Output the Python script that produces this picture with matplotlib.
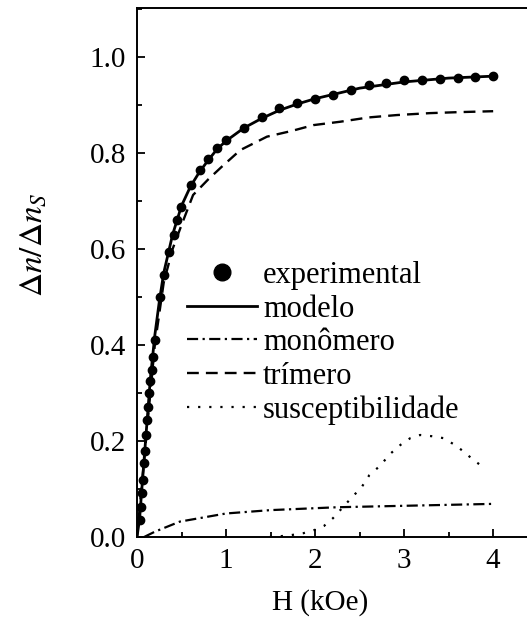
import numpy as np
import matplotlib
matplotlib.use('Agg')
import matplotlib.pyplot as plt
from matplotlib.ticker import MultipleLocator, FormatStrFormatter

plt.rcParams['font.family'] = 'Liberation Serif'
plt.rcParams['mathtext.fontset'] = 'stix'

# experimental points
H_exp = [0.034, 0.04, 0.053, 0.071, 0.079, 0.09, 0.10, 0.109, 0.127, 0.14, 0.146, 0.165, 0.18, 0.20,
         0.26, 0.30, 0.36, 0.41, 0.45, 0.49, 0.61, 0.71, 0.80, 0.90, 1.0,
         1.2, 1.4, 1.6, 1.8, 2.0, 2.2, 2.4, 2.6, 2.8, 3.0, 3.2, 3.4, 3.6, 3.8, 4.0]
y_exp = [0.035, 0.063, 0.091, 0.119, 0.154, 0.18, 0.2125, 0.244, 0.27, 0.30, 0.324, 0.348, 0.376, 0.41,
         0.50, 0.546, 0.594, 0.629, 0.66, 0.688, 0.733, 0.765, 0.787, 0.811, 0.827,
         0.853, 0.874, 0.893, 0.905, 0.913, 0.921, 0.931, 0.942, 0.946, 0.951, 0.952, 0.955, 0.957, 0.959, 0.960]

# modelo
H_mod = [0, 0.03, 0.05, 0.1, 0.15, 0.2, 0.25, 0.3, 0.4, 0.5, 0.6, 0.7, 0.8, 0.9, 1.0,
         1.2, 1.4, 1.6, 1.8, 2.0, 2.5, 3.0, 3.5, 4.0]
y_mod = [0, 0.04, 0.09, 0.21, 0.33, 0.42, 0.49, 0.55, 0.63, 0.69, 0.73, 0.76, 0.785, 0.808, 0.825,
         0.852, 0.872, 0.889, 0.902, 0.913, 0.935, 0.948, 0.956, 0.960]

# monomero
H_mon = [0.08, 0.2, 0.48, 1.0, 1.5, 2.25, 3.0, 3.5, 4.0]
y_mon = [0, 0.011, 0.032, 0.049, 0.056, 0.062, 0.065, 0.067, 0.069]

# trimero
H_tri = [0, 0.1, 0.2, 0.3, 0.4, 0.5, 0.63, 0.8, 0.95, 1.16, 1.46, 1.74, 1.98, 2.28, 2.6, 2.92, 3.29, 3.6, 4.0]
y_tri = [0, 0.2, 0.40, 0.53, 0.60, 0.65, 0.7125, 0.745, 0.771, 0.806, 0.834, 0.846, 0.858, 0.865, 0.874,
         0.879, 0.883, 0.885, 0.887]

# susceptibilidade
H_sus = [1.49, 1.7, 1.87, 2.0, 2.1, 2.2, 2.42, 2.52, 2.61, 2.74, 2.83, 2.96, 3.07, 3.18, 3.31, 3.44,
         3.55, 3.67, 3.78, 3.91]
y_sus = [0, 0.003, 0.008, 0.015, 0.023, 0.039, 0.084, 0.103, 0.129, 0.150, 0.171, 0.192, 0.206, 0.2125,
         0.210, 0.206, 0.194, 0.178, 0.160, 0.143]

fig = plt.figure(figsize=(5.27, 6.21), dpi=100)
ax = fig.add_axes([137/527, 84/621, 390/527, 529/621])

ax.plot(H_exp, y_exp, ls=' ', marker='o', ms=6, c='black', label='experimental')
ax.plot(H_mod, y_mod, c='black', lw=2.0, label='modelo')
ax.plot(H_mon, y_mon, c='black', lw=1.6, dashes=(5, 2, 1, 2), label='monômero')
ax.plot(H_tri, y_tri, c='black', lw=1.7, dashes=(5, 3), label='trímero')
ax.plot(H_sus, y_sus, c='black', lw=1.6, dashes=(1, 4), label='susceptibilidade')

ax.set_xlim(0, 4.38)
ax.set_ylim(0, 1.102)
ax.spines['right'].set_visible(False)
for s in ['left', 'top', 'bottom']:
    ax.spines[s].set_linewidth(1.4)

ax.xaxis.set_major_locator(MultipleLocator(1))
ax.xaxis.set_minor_locator(MultipleLocator(0.5))
ax.yaxis.set_major_locator(MultipleLocator(0.2))
ax.yaxis.set_minor_locator(MultipleLocator(0.1))
ax.yaxis.set_major_formatter(FormatStrFormatter('%.1f'))
ax.tick_params(which='both', direction='in', top=False, right=False, labelsize=21, width=1.3)
ax.tick_params(which='major', length=6)
ax.tick_params(which='minor', length=3.5)
ax.tick_params(axis='x', pad=8)
ax.tick_params(axis='y', pad=8)

ax.set_xlabel('H (kOe)', fontsize=21)
ax.xaxis.set_label_coords(0.47, -0.098)
ax.set_ylabel(r'$\Delta n/\Delta n_S$', fontsize=24)
ax.yaxis.set_label_coords(-0.228, 0.552)

leg = ax.legend(loc='upper left', bbox_to_anchor=(0.096, 0.545), frameon=False, fontsize=22,
                handlelength=2.3, handletextpad=0.2, labelspacing=0.15, markerscale=2,
                borderaxespad=0)

plt.savefig('out.png', dpi=100)
